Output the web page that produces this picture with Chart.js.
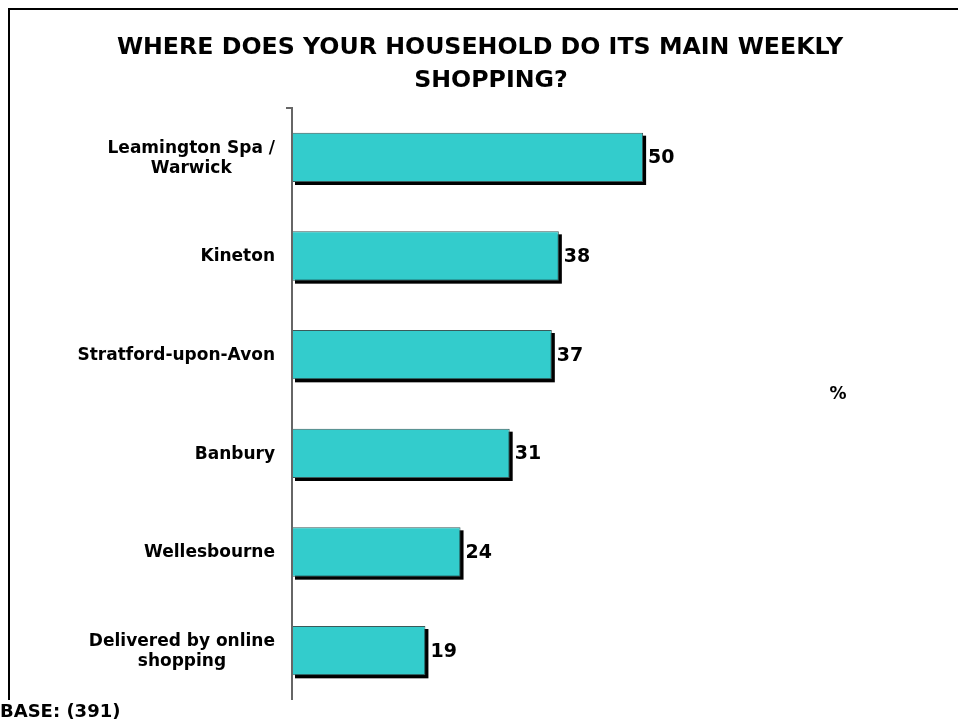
<!DOCTYPE html>
<html>
<head>
<meta charset="utf-8">
<script src="https://cdn.jsdelivr.net/npm/chart.js@4"></script>
<style>
  html, body { margin: 0; padding: 0; background: #fff; }
  #wrap { width: 958px; height: 723px; position: relative; }
</style>
</head>
<body>
<div id="wrap"><canvas id="shopChart"></canvas></div>
<script>
// Datos del gráfico
const lugares = [
    ["Leamington Spa /", "Warwick"],
    ["Kineton"],
    ["Stratford-upon-Avon"],
    ["Banbury"],
    ["Wellesbourne"],
    ["Delivered by online", "shopping"]
];
const porcentajes = [50, 38, 37, 31, 24, 19];
const tituloLineas = ["WHERE DOES YOUR HOUSEHOLD DO ITS MAIN WEEKLY", "SHOPPING?"];
const textoBase = "BASE: (391)";
const unidad = "%";

const FUENTE = "'DejaVu Sans', Verdana, sans-serif";

// Plugin para marco, títulos, sombras y etiquetas
const decoracion = {
    id: 'decoracion',
    beforeDraw(chart) {
        const ctx = chart.ctx;
        ctx.save();
        ctx.fillStyle = '#fff';
        ctx.fillRect(0, 0, chart.width, chart.height);
        // marco
        ctx.strokeStyle = '#000';
        ctx.lineWidth = 2;
        ctx.beginPath();
        ctx.moveTo(9, 700);
        ctx.lineTo(9, 9);
        ctx.lineTo(chart.width, 9);
        ctx.stroke();
        // título
        ctx.fillStyle = '#000';
        ctx.font = 'bold 23.7px ' + FUENTE;
        ctx.textAlign = 'center';
        ctx.textBaseline = 'middle';
        ctx.fillText(tituloLineas[0], 480, 48);
        ctx.fillText(tituloLineas[1], 491, 81);
        // unidad y base
        ctx.font = 'bold 17px ' + FUENTE;
        ctx.fillText(unidad, 838, 395);
        ctx.font = 'bold 18px ' + FUENTE;
        ctx.textAlign = 'left';
        ctx.fillText(textoBase, 0, 712);
        ctx.restore();
    },
    beforeDatasetsDraw(chart) {
        // sombra negra detrás de cada barra
        const ctx = chart.ctx;
        const meta = chart.getDatasetMeta(0);
        ctx.save();
        ctx.fillStyle = '#000';
        meta.data.forEach(bar => {
            const h = bar.height;
            ctx.fillRect(bar.base + 3, bar.y - h / 2 + 3, bar.x - bar.base, h);
        });
        ctx.restore();
    },
    afterDatasetsDraw(chart) {
        const ctx = chart.ctx;
        const area = chart.chartArea;
        const meta = chart.getDatasetMeta(0);
        const yScale = chart.scales.y;
        ctx.save();
        // eje vertical
        ctx.strokeStyle = '#666';
        ctx.lineWidth = 2;
        ctx.beginPath();
        ctx.moveTo(area.left - 6, area.top);
        ctx.lineTo(area.left, area.top);
        ctx.lineTo(area.left, area.bottom);
        ctx.stroke();
        // valores
        ctx.fillStyle = '#000';
        ctx.font = 'bold 19px ' + FUENTE;
        ctx.textAlign = 'left';
        ctx.textBaseline = 'middle';
        meta.data.forEach((bar, i) => {
            ctx.fillText(porcentajes[i], bar.x + 5, bar.y + 1);
        });
        // categorías
        ctx.font = 'bold 17px ' + FUENTE;
        ctx.textAlign = 'center';
        lugares.forEach((lineas, i) => {
            const yc = yScale.getPixelForValue(i) + 1;
            let ancho = 0;
            lineas.forEach(l => { ancho = Math.max(ancho, ctx.measureText(l).width); });
            const xc = 275 - ancho / 2;
            const inicio = yc - (lineas.length - 1) * 10;
            lineas.forEach((l, k) => ctx.fillText(l, xc, inicio + k * 20));
        });
        ctx.restore();
    }
};

const ctx = document.getElementById('shopChart').getContext('2d');
new Chart(ctx, {
    type: 'bar',
    data: {
        labels: lugares,
        datasets: [{
            data: porcentajes,
            backgroundColor: '#33CCCC',
            borderColor: '#3a5a5a',
            borderWidth: 1,
            barPercentage: 0.5,
            categoryPercentage: 1
        }]
    },
    options: {
        indexAxis: 'y',
        responsive: true,
        maintainAspectRatio: false,
        animation: false,
        layout: { padding: { left: 292, top: 108, right: 34, bottom: 23 } },
        plugins: {
            legend: { display: false },
            tooltip: { enabled: false },
            title: { display: false }
        },
        scales: {
            x: { display: false, min: 0, max: 90 },
            y: { display: false }
        }
    },
    plugins: [decoracion]
});
</script>
</body>
</html>
